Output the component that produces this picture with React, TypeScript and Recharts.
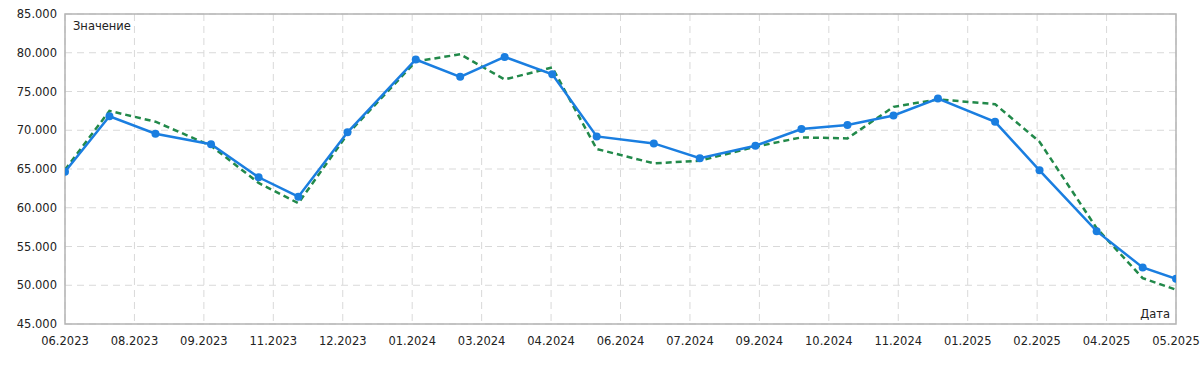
import { LineChart, Line, XAxis, YAxis, CartesianGrid, ReferenceArea } from "recharts"

const DATES = [
  "2023-06-25", "2023-07-23", "2023-08-21", "2023-09-25", "2023-10-25", "2023-11-19",
  "2023-12-20", "2024-02-01", "2024-02-29", "2024-03-28", "2024-04-27", "2024-05-25",
  "2024-06-30", "2024-07-29", "2024-09-02", "2024-10-01", "2024-10-30", "2024-11-28",
  "2024-12-26", "2025-01-31", "2025-02-28", "2025-04-05", "2025-05-04", "2025-05-25",
]

const ACTUAL = [
  64.65, 71.8, 69.55, 68.2, 63.93, 61.43, 69.73, 79.13, 76.89, 79.46, 77.23, 69.2,
  68.3, 66.38, 68.0, 70.15, 70.67, 71.91, 74.1, 71.09, 64.83, 56.98, 52.29, 50.83,
]

const FORECAST = [
  64.9, 72.5, 71.1, 68.0, 63.2, 60.58, 69.5, 78.87, 79.81, 76.55, 78.1, 67.58,
  65.73, 66.07, 67.87, 69.08, 68.95, 73.02, 73.98, 73.37, 68.52, 57.36, 50.92, 49.42,
]

const TICK_LABELS = [
  "06.2023", "08.2023", "09.2023", "11.2023", "12.2023", "01.2024", "03.2024", "04.2024",
  "06.2024", "07.2024", "09.2024", "10.2024", "11.2024", "01.2025", "02.2025", "04.2025", "05.2025",
]

const Y_TICKS = [45, 50, 55, 60, 65, 70, 75, 80, 85]

const START = Date.parse(DATES[0])
const END = Date.parse(DATES[DATES.length - 1])
const STEP = (END - START) / (TICK_LABELS.length - 1)
const X_TICKS = TICK_LABELS.map((_, i) => START + i * STEP)

const data = DATES.map((d, i) => ({
  t: Date.parse(d),
  actual: ACTUAL[i],
  forecast: FORECAST[i],
}))

const tickStyle = { fontSize: 11.5, fill: "#222", fontFamily: "DejaVu Sans" }

export default function App() {
  return (
    <div style={{ position: "absolute", left: 0, top: 0, fontFamily: "DejaVu Sans" }}>
      <LineChart
        width={1200}
        height={367}
        data={data}
        margin={{ top: 14, right: 24, left: 0, bottom: 0 }}
      >
        <CartesianGrid stroke="#d9d9d9" strokeDasharray="7 5" />
        <XAxis
          dataKey="t"
          type="number"
          domain={[START, END]}
          ticks={X_TICKS}
          interval={0}
          allowDataOverflow
          height={43}
          tickLine={false}
          axisLine={false}
          tickMargin={7}
          tick={tickStyle}
          tickFormatter={(_v, i) => TICK_LABELS[i]}
        />
        <YAxis
          type="number"
          domain={[45, 85]}
          ticks={Y_TICKS}
          interval={0}
          width={65}
          tickLine={false}
          axisLine={false}
          tick={tickStyle}
          tickFormatter={(v) => v.toFixed(3)}
        />
        <ReferenceArea
          x1={START}
          x2={END}
          y1={45}
          y2={85}
          fill="none"
          stroke="#b4b4b4"
          strokeWidth={1.5}
          label={{ value: "Значение", position: "insideTopLeft", offset: 8, fontSize: 11.5, fill: "#222" }}
        />
        <ReferenceArea
          x1={START}
          x2={END}
          y1={45}
          y2={85}
          fill="none"
          stroke="none"
          label={{ value: "Дата", position: "insideBottomRight", offset: 6, fontSize: 11.5, fill: "#222" }}
        />
        <Line
          dataKey="forecast"
          type="linear"
          stroke="#22894a"
          strokeWidth={2.5}
          strokeDasharray="6 4"
          dot={false}
          activeDot={false}
          isAnimationActive={false}
        />
        <Line
          dataKey="actual"
          type="linear"
          stroke="#1a7ee0"
          strokeWidth={2.5}
          dot={{ r: 4, fill: "#1a7ee0", stroke: "none" }}
          activeDot={false}
          isAnimationActive={false}
        />
      </LineChart>
    </div>
  )
}
